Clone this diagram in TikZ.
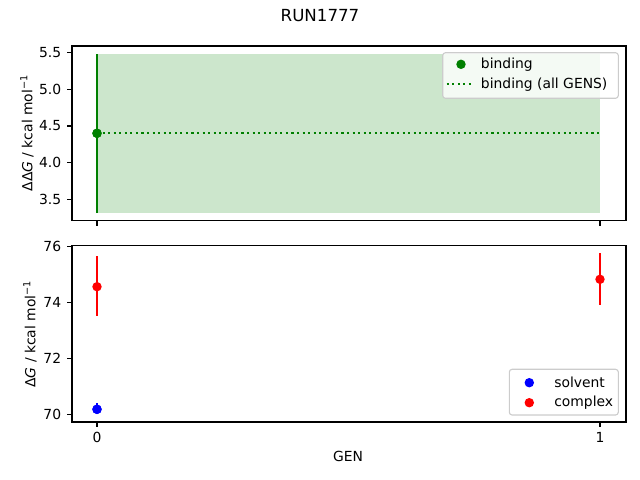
\documentclass[tikz,border=0pt]{standalone}
\usepackage{fontspec}
\setmainfont{DejaVu Sans}
\usepackage{tikz}

\definecolor{bindgreen}{RGB}{0,128,0}
\definecolor{bindshade}{RGB}{204,230,204}
\definecolor{legendedge}{RGB}{204,204,204}

\begin{document}
\begin{tikzpicture}[x=0.72pt,y=-0.72pt,font=\fontsize{10}{12}\selectfont,
  spine/.style={line width=0.8pt},
  tickmark/.style={line width=0.8pt},
  errbar/.style={line width=1.5pt},
  dot/.style={circle,inner sep=0pt,minimum size=6.8pt},
  legtext/.style={anchor=west,inner sep=0pt},
  legendbox/.style={draw=legendedge,fill=white,fill opacity=0.8,rounded corners=2pt,line width=0.8pt}]
  \useasboundingbox (0,0) rectangle (640,480);

  \node (title) at (320,16) {\fontsize{12}{14}\selectfont RUN1777};

  % upper panel: binding
  \fill[color=bindshade] (97,54) rectangle (600,213);
  \node[dot,fill=bindgreen] (bind0) at (97,133.3) {};
  \coordinate (bindlo) at (97,213);
  \coordinate (bindhi) at (97,54);
  \coordinate (bindend) at (600,133.3);
  \draw[errbar,color=bindgreen] (bindlo) -- (bindhi);
  \draw[errbar,color=bindgreen,dash pattern=on 1.5pt off 2.5pt] (bind0.center) -- (bindend);
  \node[dot,fill=bindgreen] at (bind0) {};
  \draw[spine] (72,46) rectangle (626,220.5);

  \foreach \yy/\lab in {52.7/5.5,89.3/5.0,126/4.5,162.7/4.0,199.3/3.5} {
    \draw[tickmark] (72,\yy) -- (67,\yy);
    \node[anchor=east] (yt\lab) at (66,\yy) {\lab};
  }
  \foreach \xx in {97,600} {
    \draw[tickmark] (\xx,220.5) -- (\xx,225.5);
  }
  \node[rotate=90] (ylabtop) at (27,133) {ΔΔ{\itshape G} / kcal mol\textsuperscript{−1}};

  \draw[legendbox] (442.7,52.7) rectangle (618.3,98.3);
  \node[dot,fill=bindgreen] (legbind) at (461,64.3) {};
  \coordinate (legdota) at (446.7,84.3);
  \coordinate (legdotb) at (470.7,84.3);
  \draw[errbar,color=bindgreen,dash pattern=on 1.5pt off 2.5pt] (legdota) -- (legdotb);
  \node[legtext] (legbindtxt) at (480.7,64.3) {binding};
  \node[legtext] (legalltxt) at (480.7,84.3) {binding (all GENS)};

  % lower panel: solvent and complex
  \coordinate (cplx0lo) at (97,315.7);
  \coordinate (cplx0hi) at (97,256);
  \coordinate (cplx1lo) at (600,304.7);
  \coordinate (cplx1hi) at (600,252.7);
  \coordinate (solv0hi) at (97,403.3);
  \draw[errbar,color=red] (cplx0lo) -- (cplx0hi);
  \draw[errbar,color=red] (cplx1lo) -- (cplx1hi);
  \node[dot,fill=blue] (solv0) at (97,409.3) {};
  \draw[errbar,color=blue] (solv0.center) -- (solv0hi);
  \node[dot,fill=blue] at (solv0) {};
  \node[dot,fill=red] (cplx0) at (97,286.7) {};
  \node[dot,fill=red] (cplx1) at (600,279.3) {};
  \draw[spine] (72,245.3) rectangle (626,422);

  \foreach \yy/\lab in {246.7/76,302.6/74,358.5/72,414.3/70} {
    \draw[tickmark] (72,\yy) -- (67,\yy);
    \node[anchor=east] (yb\lab) at (66,\yy) {\lab};
  }
  \foreach \xx/\lab in {97/0,600/1} {
    \draw[tickmark] (\xx,422) -- (\xx,427);
    \node (xb\lab) at (\xx,437.5) {\lab};
  }
  \node (xlab) at (348,456.5) {GEN};
  \node[rotate=90] (ylabbot) at (30,334) {Δ{\itshape G} / kcal mol\textsuperscript{−1}};

  \draw[legendbox] (509.3,369.3) rectangle (618.3,415);
  \node[dot,fill=blue] (legsolv) at (529.3,382.7) {};
  \node[dot,fill=red] (legcplx) at (529.3,402.7) {};
  \node[legtext] (legsolvtxt) at (554,382.7) {solvent};
  \node[legtext] (legcplxtxt) at (554,402.7) {complex};
\end{tikzpicture}
\end{document}
